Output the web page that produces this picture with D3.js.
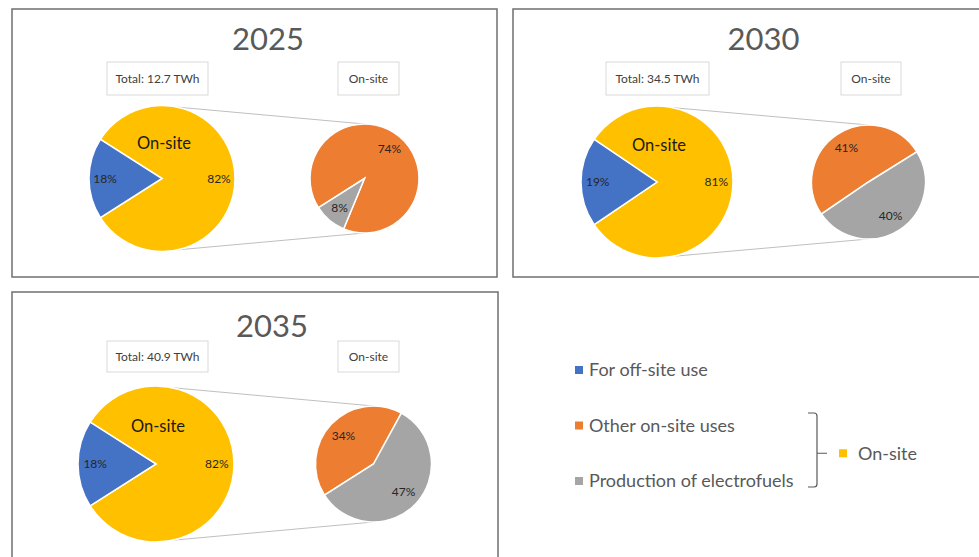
<!DOCTYPE html>
<html>
<head>
<meta charset="utf-8">
<script src="https://cdn.jsdelivr.net/npm/d3@7"></script>
<style>
  body { margin: 0; background: #fff; }
  svg { display: block; font-family: Lato, "Open Sans", sans-serif; }
</style>
</head>
<body>
<script>
// data
var years = ['2025', '2030', '2035'];
var totals = ['12.7', '34.5', '40.9'];          // TWh
var offSite = [18, 19, 18];                      // % of total
var onSite = [82, 81, 82];
var otherOnSite = [74, 41, 34];                  // % of total, shown in the secondary pie
var electrofuels = [8, 40, 47];
var categories = ['For off-site use', 'Other on-site uses', 'Production of electrofuels'];
var groupLabel = 'On-site';

var colors = {
  off: '#4472C4',
  on: '#FFC000',
  other: '#ED7D31',
  fuel: '#A5A5A5'
};

// layout of the three panels
var panels = [
  { box: [12, 9, 485, 268], title: [268, 50], totalBox: [107, 62, 101, 33], onBox: [338, 62, 61, 33],
    main: [162, 178.5, 73], sub: [364.5, 178.5, 54.5] },
  { box: [513, 9, 480, 268], title: [763.5, 50], totalBox: [606, 62, 103, 33], onBox: [841, 62, 60, 33],
    main: [657, 182, 76], sub: [868.5, 182, 57] },
  { box: [12, 292, 486, 280], title: [272, 337], totalBox: [107, 341, 101, 31], onBox: [338, 341, 61, 31],
    main: [156, 464, 78], sub: [373.5, 464, 58] }
];

var svg = d3.select('body').append('svg')
  .attr('width', 979)
  .attr('height', 557);

var deg = Math.PI / 180;

function drawPanel(i) {
  var p = panels[i];
  var g = svg.append('g');

  g.append('rect')
    .attr('x', p.box[0]).attr('y', p.box[1])
    .attr('width', p.box[2]).attr('height', p.box[3])
    .attr('fill', '#fff')
    .attr('stroke', '#6f6f6f')
    .attr('stroke-width', 1.5);

  g.append('text')
    .attr('x', p.title[0]).attr('y', p.title[1])
    .attr('text-anchor', 'middle')
    .attr('font-size', 31)
    .attr('fill', '#595959')
    .text(years[i]);

  var boxes = [[p.totalBox, 'Total: ' + totals[i] + ' TWh'], [p.onBox, groupLabel]];
  boxes.forEach(function(b) {
    g.append('rect')
      .attr('x', b[0][0]).attr('y', b[0][1])
      .attr('width', b[0][2]).attr('height', b[0][3])
      .attr('fill', '#fff')
      .attr('stroke', '#d9d9d9');
    g.append('text')
      .attr('x', b[0][0] + b[0][2] / 2)
      .attr('y', b[0][1] + b[0][3] / 2)
      .attr('dy', '0.35em')
      .attr('text-anchor', 'middle')
      .attr('font-size', 12)
      .attr('fill', '#404040')
      .text(b[1]);
  });

  var mx = p.main[0], my = p.main[1], mr = p.main[2];
  var sx = p.sub[0], sy = p.sub[1], sr = p.sub[2];

  // connector lines between the two pies
  var a = 78 * deg;
  [-1, 1].forEach(function(s) {
    g.append('line')
      .attr('x1', mx + mr * Math.cos(a)).attr('y1', my + s * mr * Math.sin(a))
      .attr('x2', sx).attr('y2', sy + s * sr)
      .attr('stroke', '#bfbfbf')
      .attr('stroke-width', 1);
  });

  // main pie: on-site slice centred to the right, off-site on the left
  var onAngle = onSite[i] / 100 * 2 * Math.PI;
  var mainData = [
    { v: onSite[i], c: colors.on },
    { v: offSite[i], c: colors.off }
  ];
  var mainPie = d3.pie().sort(null).value(function(d) { return d.v; })
    .startAngle(Math.PI / 2 - onAngle / 2)
    .endAngle(Math.PI / 2 - onAngle / 2 + 2 * Math.PI);
  var mainArc = d3.arc().innerRadius(0).outerRadius(mr);
  var mainLabel = d3.arc().innerRadius(mr * 0.78).outerRadius(mr * 0.78);

  var mg = g.append('g').attr('transform', 'translate(' + mx + ',' + my + ')');
  var ma = mainPie(mainData);
  mg.selectAll('path').data(ma).enter().append('path')
    .attr('d', mainArc)
    .attr('fill', function(d) { return d.data.c; })
    .attr('stroke', '#fff')
    .attr('stroke-width', 1.5);
  mg.selectAll('text.pct').data(ma).enter().append('text')
    .attr('class', 'pct')
    .attr('transform', function(d) { return 'translate(' + mainLabel.centroid(d) + ')'; })
    .attr('dy', '0.35em')
    .attr('text-anchor', 'middle')
    .attr('font-size', 12)
    .attr('fill', '#262626')
    .text(function(d) { return d.data.v + '%'; });
  mg.append('text')
    .attr('x', 2).attr('y', -mr * 0.49)
    .attr('dy', '0.35em')
    .attr('text-anchor', 'middle')
    .attr('font-size', 16.5)
    .attr('fill', '#1a1a1a')
    .text(groupLabel);

  // secondary pie: breakdown of on-site, last slice ends level with the off-site edge
  var endAngle = (270 - offSite[i] * 3.6 / 2) * deg;
  var subData = [
    { v: otherOnSite[i], c: colors.other },
    { v: electrofuels[i], c: colors.fuel }
  ];
  var subPie = d3.pie().sort(null).value(function(d) { return d.v; })
    .startAngle(endAngle - 2 * Math.PI)
    .endAngle(endAngle);
  var subArc = d3.arc().innerRadius(0).outerRadius(sr);
  var subLabel = d3.arc().innerRadius(sr * 0.71).outerRadius(sr * 0.71);

  var sg = g.append('g').attr('transform', 'translate(' + sx + ',' + sy + ')');
  var sa = subPie(subData);
  sg.selectAll('path').data(sa).enter().append('path')
    .attr('d', subArc)
    .attr('fill', function(d) { return d.data.c; })
    .attr('stroke', '#fff')
    .attr('stroke-width', 1.5);
  sg.selectAll('text.pct').data(sa).enter().append('text')
    .attr('class', 'pct')
    .attr('transform', function(d) { return 'translate(' + subLabel.centroid(d) + ')'; })
    .attr('dy', '0.35em')
    .attr('text-anchor', 'middle')
    .attr('font-size', 12)
    .attr('fill', '#262626')
    .text(function(d) { return d.data.v + '%'; });
}

years.forEach(function(y, i) { drawPanel(i); });

// legend
var legendColors = [colors.off, colors.other, colors.fuel];
var legendY = d3.scalePoint().domain(categories).range([370, 481]);
var lg = svg.append('g');
lg.selectAll('rect').data(categories).enter().append('rect')
  .attr('x', 575)
  .attr('y', function(d) { return legendY(d) - 4; })
  .attr('width', 8).attr('height', 8)
  .attr('fill', function(d, i) { return legendColors[i]; });
lg.selectAll('text').data(categories).enter().append('text')
  .attr('x', 589)
  .attr('y', function(d) { return legendY(d); })
  .attr('dy', '0.35em')
  .attr('font-size', 18)
  .attr('fill', '#595959')
  .text(function(d) { return d; });

var midY = (legendY(categories[1]) + legendY(categories[2])) / 2;
lg.append('path')
  .attr('d', 'M808,413 H814 Q817,413 817,416 V484 Q817,487 814,487 H808 M817,' + midY + ' H827')
  .attr('fill', 'none')
  .attr('stroke', '#595959')
  .attr('stroke-width', 1.2);
lg.append('rect')
  .attr('x', 839).attr('y', midY - 4)
  .attr('width', 8).attr('height', 8)
  .attr('fill', colors.on);
lg.append('text')
  .attr('x', 858).attr('y', midY)
  .attr('dy', '0.35em')
  .attr('font-size', 18)
  .attr('fill', '#595959')
  .text(groupLabel);
</script>
</body>
</html>
